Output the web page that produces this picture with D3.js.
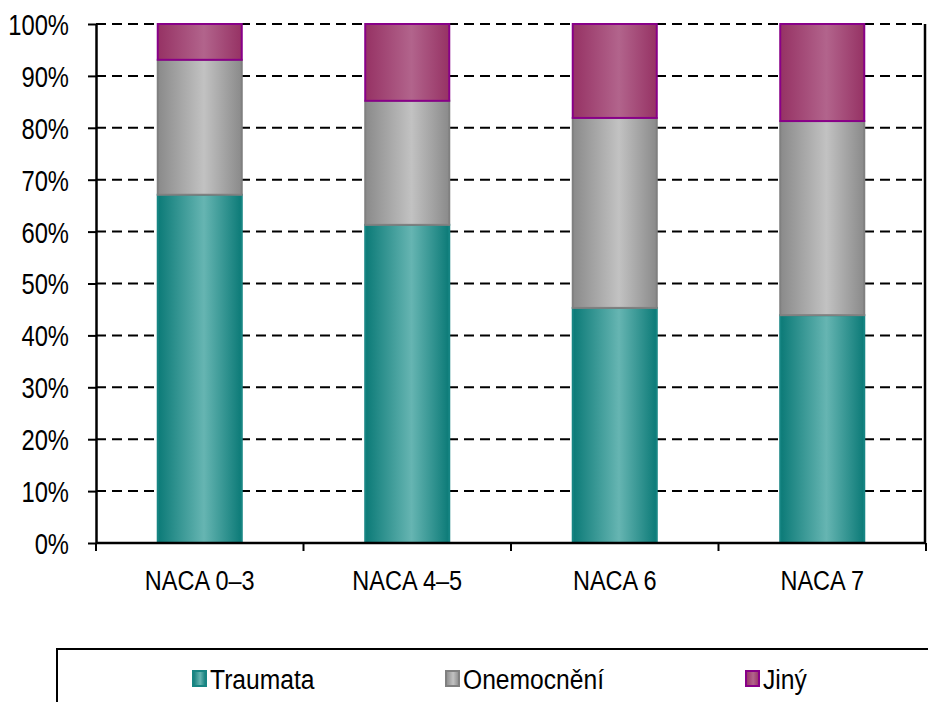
<!DOCTYPE html>
<html>
<head>
<meta charset="utf-8">
<script src="https://cdn.jsdelivr.net/npm/d3@7"></script>
<style>
  body { margin: 0; background: #fff; }
  svg { display: block; font-family: "Liberation Sans", Arial, sans-serif; }
</style>
</head>
<body>
<div id="chart"></div>
<script>
const categories = ['NACA 0–3', 'NACA 4–5', 'NACA 6', 'NACA 7'];
const seriesNames = ['Traumata', 'Onemocnění', 'Jiný'];
const traumata = [67.1, 61.3, 45.3, 43.9];
const onemocneni = [26.0, 23.9, 36.6, 37.4];
const jiny = [6.9, 14.8, 18.1, 18.7];
const yTicks = [0, 10, 20, 30, 40, 50, 60, 70, 80, 90, 100];

const width = 928;
const height = 702;
const margin = { top: 24, right: 2, bottom: 159, left: 96 };
const w = width - margin.left - margin.right;
const h = height - margin.top - margin.bottom;
const narrow = 0.82; // squeeze text to look like Arial Narrow

// colours: edge, centre, border
const palette = [
  { edge: '#0b7a77', mid: '#66b5b2', stroke: '#178583' },
  { edge: '#8a8a8a', mid: '#c2c2c2', stroke: '#808080' },
  { edge: '#963264', mid: '#b2648c', stroke: '#880088' }
];

const data = categories.map((c, i) => ({
  cat: c, Traumata: traumata[i], 'Onemocnění': onemocneni[i], 'Jiný': jiny[i]
}));
const stacked = d3.stack().keys(seriesNames)(data);

const x = d3.scaleBand().domain(categories).range([0, w]).paddingInner(0.595).paddingOuter(0.2975);
const y = d3.scaleLinear().domain([0, 100]).range([h, 0]);

const svg = d3.select('#chart').append('svg')
  .attr('width', width)
  .attr('height', height);

const defs = svg.append('defs');
palette.forEach((p, i) => {
  const g = defs.append('linearGradient').attr('id', 'grad' + i)
    .attr('x1', '0%').attr('x2', '100%').attr('y1', '0%').attr('y2', '0%');
  g.append('stop').attr('offset', '0%').attr('stop-color', p.edge);
  g.append('stop').attr('offset', '55%').attr('stop-color', p.mid);
  g.append('stop').attr('offset', '100%').attr('stop-color', p.edge);
});

const chart = svg.append('g')
  .attr('transform', 'translate(' + margin.left + ',' + margin.top + ')');

// dashed grid lines
chart.append('g')
  .selectAll('line')
  .data(yTicks.filter(d => d > 0))
  .join('line')
  .attr('x1', 0).attr('x2', w)
  .attr('y1', d => y(d)).attr('y2', d => y(d))
  .attr('stroke', '#000')
  .attr('stroke-width', 2)
  .attr('stroke-dasharray', '10,6');

// bars
chart.append('g')
  .selectAll('g')
  .data(stacked)
  .join('g')
  .each(function(s, si) {
    d3.select(this).selectAll('rect')
      .data(s)
      .join('rect')
      .attr('x', d => x(d.data.cat))
      .attr('width', x.bandwidth())
      .attr('y', d => y(d[1]))
      .attr('height', d => y(d[0]) - y(d[1]))
      .attr('fill', 'url(#grad' + si + ')')
      .attr('stroke', palette[si].stroke)
      .attr('stroke-width', 2);
  });

// y axis
const yAxis = chart.append('g')
  .call(d3.axisLeft(y).tickValues(yTicks).tickFormat(d => d + '%').tickSize(8).tickSizeOuter(0));
yAxis.select('.domain').attr('stroke-width', 2.5);
yAxis.selectAll('.tick line').attr('stroke-width', 2);
yAxis.selectAll('text')
  .attr('font-size', 29)
  .attr('font-family', null)
  .attr('x', -27 / narrow)
  .attr('dy', '0.36em')
  .attr('transform', 'scale(' + narrow + ',1)');

// x axis baseline + ticks at band boundaries
chart.append('line')
  .attr('x1', 0).attr('x2', w).attr('y1', h).attr('y2', h)
  .attr('stroke', '#000').attr('stroke-width', 2.5);
const step = x.step();
chart.append('g')
  .selectAll('line')
  .data(d3.range(categories.length + 1))
  .join('line')
  .attr('x1', i => i * step).attr('x2', i => i * step)
  .attr('y1', h).attr('y2', h + 8)
  .attr('stroke', '#000').attr('stroke-width', 2);
chart.append('g')
  .selectAll('g')
  .data(categories)
  .join('g')
  .attr('transform', d => 'translate(' + (x(d) + x.bandwidth() / 2) + ',' + (h + 47) + ') scale(' + 0.84 + ',1)')
  .append('text')
  .attr('text-anchor', 'middle')
  .attr('font-size', 28)
  .text(d => d);

// right border
chart.append('line')
  .attr('x1', w - 1).attr('x2', w - 1).attr('y1', 0).attr('y2', h)
  .attr('stroke', '#000').attr('stroke-width', 2.5);

// legend
const legend = svg.append('g');
legend.append('rect')
  .attr('x', 57).attr('y', 649)
  .attr('width', 880).attr('height', 70)
  .attr('fill', 'none').attr('stroke', '#000').attr('stroke-width', 2);
const legendX = [193, 446, 746];
const items = legend.selectAll('g.item')
  .data(seriesNames)
  .join('g')
  .attr('class', 'item')
  .attr('transform', (d, i) => 'translate(' + legendX[i] + ',671)');
items.append('rect')
  .attr('x', 0).attr('y', 0).attr('width', 13).attr('height', 15)
  .attr('fill', (d, i) => 'url(#grad' + i + ')')
  .attr('stroke', (d, i) => palette[i].stroke)
  .attr('stroke-width', 2);
items.append('g')
  .attr('transform', 'translate(17,8) scale(0.88,1)')
  .append('text')
  .attr('dy', '0.36em')
  .attr('font-size', 28)
  .text(d => d);
</script>
</body>
</html>
